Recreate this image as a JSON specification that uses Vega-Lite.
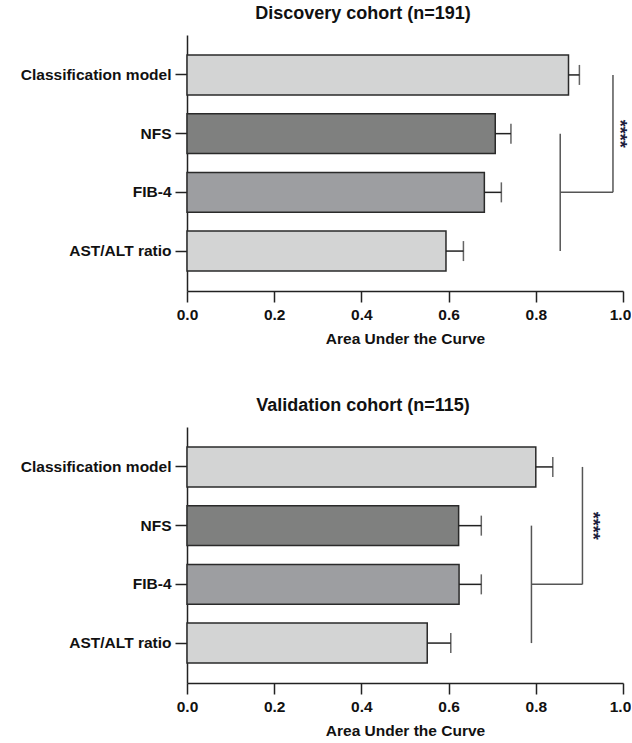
{
  "$schema": "https://vega.github.io/schema/vega-lite/v6.json",
  "background": "white",
  "padding": {"left": 20, "top": 5, "right": 0, "bottom": 5},
  "config": {
    "view": {"stroke": null},
    "font": "Liberation Sans",
    "axis": {
      "labelFont": "Liberation Sans",
      "labelFontWeight": "bold",
      "labelFontSize": 15.5,
      "labelColor": "#111111",
      "titleFont": "Liberation Sans",
      "titleFontWeight": "bold",
      "titleFontSize": 15.5,
      "titleColor": "#111111",
      "domainColor": "#222222",
      "domainWidth": 1.5,
      "tickColor": "#222222",
      "tickWidth": 1.5,
      "grid": false
    },
    "title": {
      "font": "Liberation Sans",
      "fontSize": 18,
      "fontWeight": "bold",
      "color": "#111111",
      "anchor": "middle",
      "frame": "group",
      "offset": 12,
      "dx": -42
    }
  },
  "datasets": {
    "auc": [
      {"cohort": "Discovery", "measure": "Classification model", "auc": 0.875, "upper": 0.900},
      {"cohort": "Discovery", "measure": "NFS", "auc": 0.707, "upper": 0.743},
      {"cohort": "Discovery", "measure": "FIB-4", "auc": 0.682, "upper": 0.721},
      {"cohort": "Discovery", "measure": "AST/ALT ratio", "auc": 0.594, "upper": 0.634},
      {"cohort": "Validation", "measure": "Classification model", "auc": 0.800, "upper": 0.839},
      {"cohort": "Validation", "measure": "NFS", "auc": 0.623, "upper": 0.675},
      {"cohort": "Validation", "measure": "FIB-4", "auc": 0.624, "upper": 0.675},
      {"cohort": "Validation", "measure": "AST/ALT ratio", "auc": 0.551, "upper": 0.605}
    ],
    "bracketV": [
      {"cohort": "Discovery", "x": 0.856, "from": "NFS", "to": "AST/ALT ratio"},
      {"cohort": "Discovery", "x": 0.977, "from": "Classification model", "to": "FIB-4"},
      {"cohort": "Validation", "x": 0.790, "from": "NFS", "to": "AST/ALT ratio"},
      {"cohort": "Validation", "x": 0.907, "from": "Classification model", "to": "FIB-4"}
    ],
    "bracketH": [
      {"cohort": "Discovery", "x": 0.856, "x2": 0.977, "at": "FIB-4"},
      {"cohort": "Validation", "x": 0.790, "x2": 0.907, "at": "FIB-4"}
    ],
    "stars": [
      {"cohort": "Discovery", "x": 0.99, "at": "NFS", "label": "****"},
      {"cohort": "Validation", "x": 0.929, "at": "NFS", "label": "****"}
    ]
  },
  "spacing": 50,
  "vconcat": [
    {
      "title": "Discovery cohort (n=191)",
      "width": 436,
      "height": 256,
      "layer": [
        {
          "data": {"name": "auc"},
          "transform": [{"filter": "datum.cohort === 'Discovery'"}],
          "mark": {"type": "bar", "stroke": "#2a2a2a", "strokeWidth": 1.5},
          "encoding": {
            "y": {
              "field": "measure", "type": "nominal",
              "scale": {"domain": ["Classification model", "NFS", "FIB-4", "AST/ALT ratio"], "paddingInner": 0.32, "paddingOuter": 0.34},
              "axis": {"title": null, "tickSize": 12, "labelPadding": 4}
            },
            "x": {
              "field": "auc", "type": "quantitative",
              "scale": {"domain": [0, 1], "nice": false},
              "axis": {
                "title": "Area Under the  Curve", "values": [0, 0.2, 0.4, 0.6, 0.8, 1], "format": ".1f",
                "labelFlush": false,
                "labelOffset": {"condition": {"test": "datum.value === 1", "value": -3}, "value": 0},
                "tickSize": 11, "labelPadding": 5, "titlePadding": 9
              }
            },
            "fill": {
              "field": "measure", "type": "nominal",
              "scale": {"domain": ["Classification model", "NFS", "FIB-4", "AST/ALT ratio"], "range": ["#d3d4d4", "#7f807f", "#9d9ea1", "#d3d4d4"]},
              "legend": null
            }
          }
        },
        {
          "data": {"name": "auc"},
          "transform": [{"filter": "datum.cohort === 'Discovery'"}],
          "mark": {"type": "rule", "color": "#222222", "strokeWidth": 1.5},
          "encoding": {
            "y": {"field": "measure", "type": "nominal", "scale": {"domain": ["Classification model", "NFS", "FIB-4", "AST/ALT ratio"]}},
            "x": {"field": "auc", "type": "quantitative"},
            "x2": {"field": "upper"}
          }
        },
        {
          "data": {"name": "auc"},
          "transform": [{"filter": "datum.cohort === 'Discovery'"}],
          "mark": {"type": "tick", "color": "#222222", "size": 20, "thickness": 1.5},
          "encoding": {
            "y": {"field": "measure", "type": "nominal", "scale": {"domain": ["Classification model", "NFS", "FIB-4", "AST/ALT ratio"]}},
            "x": {"field": "upper", "type": "quantitative"}
          }
        },
        {
          "data": {"name": "bracketV"},
          "transform": [{"filter": "datum.cohort === 'Discovery'"}],
          "mark": {"type": "rule", "color": "#555555", "strokeWidth": 1.5},
          "encoding": {
            "x": {"field": "x", "type": "quantitative"},
            "y": {"field": "from", "type": "nominal", "scale": {"domain": ["Classification model", "NFS", "FIB-4", "AST/ALT ratio"]}},
            "y2": {"field": "to"}
          }
        },
        {
          "data": {"name": "bracketH"},
          "transform": [{"filter": "datum.cohort === 'Discovery'"}],
          "mark": {"type": "rule", "color": "#555555", "strokeWidth": 1.5},
          "encoding": {
            "x": {"field": "x", "type": "quantitative"},
            "x2": {"field": "x2"},
            "y": {"field": "at", "type": "nominal", "scale": {"domain": ["Classification model", "NFS", "FIB-4", "AST/ALT ratio"]}}
          }
        },
        {
          "data": {"name": "stars"},
          "transform": [{"filter": "datum.cohort === 'Discovery'"}],
          "mark": {"type": "text", "angle": 90, "align": "center", "baseline": "middle", "fontSize": 18, "fontWeight": "bold", "color": "#1c1c3c"},
          "encoding": {
            "x": {"field": "x", "type": "quantitative"},
            "y": {"field": "at", "type": "nominal", "scale": {"domain": ["Classification model", "NFS", "FIB-4", "AST/ALT ratio"]}},
            "text": {"field": "label"}
          }
        }
      ]
    },
    {
      "title": "Validation cohort (n=115)",
      "width": 436,
      "height": 256,
      "layer": [
        {
          "data": {"name": "auc"},
          "transform": [{"filter": "datum.cohort === 'Validation'"}],
          "mark": {"type": "bar", "stroke": "#2a2a2a", "strokeWidth": 1.5},
          "encoding": {
            "y": {
              "field": "measure", "type": "nominal",
              "scale": {"domain": ["Classification model", "NFS", "FIB-4", "AST/ALT ratio"], "paddingInner": 0.32, "paddingOuter": 0.34},
              "axis": {"title": null, "tickSize": 12, "labelPadding": 4}
            },
            "x": {
              "field": "auc", "type": "quantitative",
              "scale": {"domain": [0, 1], "nice": false},
              "axis": {
                "title": "Area Under the  Curve", "values": [0, 0.2, 0.4, 0.6, 0.8, 1], "format": ".1f",
                "labelFlush": false,
                "labelOffset": {"condition": {"test": "datum.value === 1", "value": -3}, "value": 0},
                "tickSize": 11, "labelPadding": 5, "titlePadding": 9
              }
            },
            "fill": {
              "field": "measure", "type": "nominal",
              "scale": {"domain": ["Classification model", "NFS", "FIB-4", "AST/ALT ratio"], "range": ["#d3d4d4", "#7f807f", "#9d9ea1", "#d3d4d4"]},
              "legend": null
            }
          }
        },
        {
          "data": {"name": "auc"},
          "transform": [{"filter": "datum.cohort === 'Validation'"}],
          "mark": {"type": "rule", "color": "#222222", "strokeWidth": 1.5},
          "encoding": {
            "y": {"field": "measure", "type": "nominal", "scale": {"domain": ["Classification model", "NFS", "FIB-4", "AST/ALT ratio"]}},
            "x": {"field": "auc", "type": "quantitative"},
            "x2": {"field": "upper"}
          }
        },
        {
          "data": {"name": "auc"},
          "transform": [{"filter": "datum.cohort === 'Validation'"}],
          "mark": {"type": "tick", "color": "#222222", "size": 20, "thickness": 1.5},
          "encoding": {
            "y": {"field": "measure", "type": "nominal", "scale": {"domain": ["Classification model", "NFS", "FIB-4", "AST/ALT ratio"]}},
            "x": {"field": "upper", "type": "quantitative"}
          }
        },
        {
          "data": {"name": "bracketV"},
          "transform": [{"filter": "datum.cohort === 'Validation'"}],
          "mark": {"type": "rule", "color": "#555555", "strokeWidth": 1.5},
          "encoding": {
            "x": {"field": "x", "type": "quantitative"},
            "y": {"field": "from", "type": "nominal", "scale": {"domain": ["Classification model", "NFS", "FIB-4", "AST/ALT ratio"]}},
            "y2": {"field": "to"}
          }
        },
        {
          "data": {"name": "bracketH"},
          "transform": [{"filter": "datum.cohort === 'Validation'"}],
          "mark": {"type": "rule", "color": "#555555", "strokeWidth": 1.5},
          "encoding": {
            "x": {"field": "x", "type": "quantitative"},
            "x2": {"field": "x2"},
            "y": {"field": "at", "type": "nominal", "scale": {"domain": ["Classification model", "NFS", "FIB-4", "AST/ALT ratio"]}}
          }
        },
        {
          "data": {"name": "stars"},
          "transform": [{"filter": "datum.cohort === 'Validation'"}],
          "mark": {"type": "text", "angle": 90, "align": "center", "baseline": "middle", "fontSize": 18, "fontWeight": "bold", "color": "#1c1c3c"},
          "encoding": {
            "x": {"field": "x", "type": "quantitative"},
            "y": {"field": "at", "type": "nominal", "scale": {"domain": ["Classification model", "NFS", "FIB-4", "AST/ALT ratio"]}},
            "text": {"field": "label"}
          }
        }
      ]
    }
  ]
}
